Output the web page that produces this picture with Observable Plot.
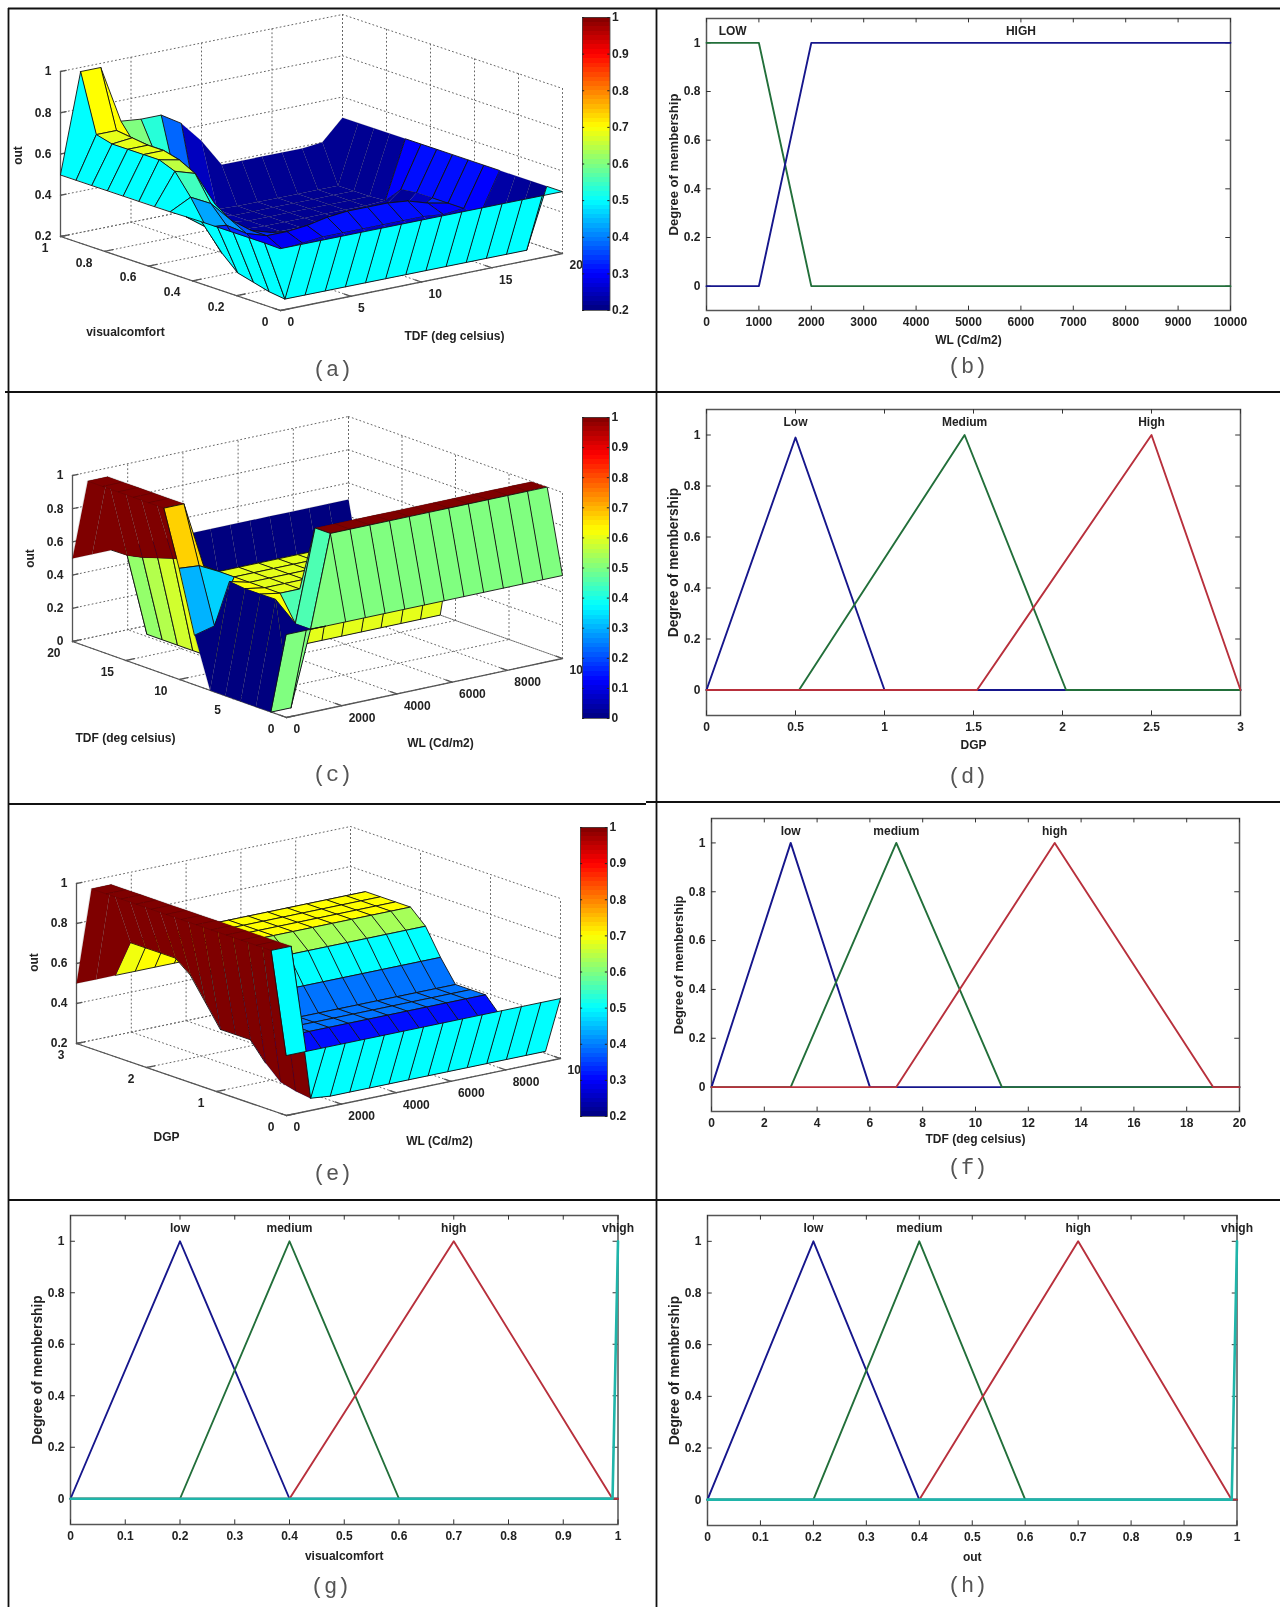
<!DOCTYPE html>
<html><head><meta charset="utf-8">
<script src="https://cdn.jsdelivr.net/npm/d3@7"></script>
<script src="https://cdn.jsdelivr.net/npm/@observablehq/plot@0.6"></script>
<style>
html,body{margin:0;padding:0;background:#fff}
#page{position:relative;width:1280px;height:1607px;overflow:hidden;filter:blur(.6px)}
#page svg{position:absolute;overflow:visible;max-width:none}
</style></head><body><div id="page"></div>
<script>
// ---------- surface values: rows = second input (low to high), columns = first input (low to high)
const surfaceA = [
[.5,.5,.5,.5,.5,.5,.5,.5,.5,.5,.5,.5,.5,.5,.5],
[.5,.21,.21,.21,.21,.21,.21,.21,.21,.21,.21,.21,.21,.21,.5],
[.5,.22,.22,.22,.22,.22,.22,.22,.22,.22,.22,.22,.22,.22,.5],
[.5,.24,.24,.24,.24,.24,.24,.24,.24,.24,.24,.24,.24,.23,.5],
[.5,.26,.27,.26,.26,.26,.26,.26,.26,.26,.26,.26,.26,.30,.5],
[.5,.33,.33,.30,.29,.30,.31,.31,.31,.31,.31,.31,.30,.31,.5],
[.5,.43,.42,.36,.33,.33,.34,.36,.37,.37,.37,.36,.33,.31,.5],
[.5,.55,.50,.40,.33,.30,.27,.25,.25,.25,.25,.25,.25,.31,.5],
[.5,.65,.62,.45,.33,.26,.22,.215,.215,.215,.215,.215,.22,.31,.5],
[.5,.68,.66,.50,.36,.26,.22,.215,.215,.215,.215,.215,.22,.30,.5],
[.5,.68,.68,.55,.40,.27,.22,.215,.215,.215,.215,.215,.215,.22,.5],
[.5,.68,.68,.57,.44,.29,.23,.215,.215,.215,.215,.215,.215,.215,.5],
[.5,.68,.69,.60,.50,.32,.24,.215,.215,.215,.215,.215,.215,.215,.5],
[.5,.70,.70,.60,.53,.38,.25,.22,.215,.215,.215,.215,.215,.215,.5],
[.5,.98,.98,.70,.69,.69,.63,.525,.39,.39,.39,.39,.39,.40,.5]];
const surfaceC = [
[.5,.5,.5,.5,.5,.5,.5,.5,.5,.5,.5,.5,.5,.5,.5],
[0,0,.45,1,1,1,1,1,1,1,1,1,1,1,1],
[0,.62,.45,1,1,1,1,1,1,1,1,1,1,1,1],
[0,.62,.6,.6,.6,.6,.6,.6,.6,.6,.6,.6,.6,.6,.6],
[0,.62,.6,.6,.6,.6,.6,.6,.6,.6,.6,.6,.6,.6,.6],
[0,.63,.6,.6,.6,.6,.6,.6,.6,.6,.6,.6,.6,.6,.6],
[.3,.33,.6,.6,.6,.6,.6,.6,.6,.6,.6,.6,.6,.6,.6],
[.67,.66,.6,.6,.6,.6,.6,.6,.6,.6,.6,.6,.6,.6,.6],
[1,1,.6,0,0,0,0,0,0,0,0,0,0,0,0],
[1,1,.6,0,0,0,0,0,0,0,0,0,0,0,0],
[1,1,.58,0,0,0,0,0,0,0,0,0,0,0,0],
[1,1,.55,0,0,0,0,0,0,0,0,0,0,0,0],
[1,1,.52,0,0,0,0,0,0,0,0,0,0,0,0],
[1,1,.5,0,0,0,0,0,0,0,0,0,0,0,0],
[.5,.5,.5,.5,.5,.5,.5,.5,.5,.5,.5,.5,.5,.5,.5]];
const surfaceE = [
[.5,.5,.5,.5,.5,.5,.5,.5,.5,.5,.5,.5,.5,.5,.5],
[1,1,.22,.21,.21,.21,.21,.21,.21,.21,.21,.21,.21,.21,.21],
[1,1,.23,.22,.22,.22,.22,.22,.22,.22,.22,.22,.22,.22,.22],
[1,1,.25,.25,.25,.25,.25,.25,.25,.25,.25,.25,.25,.25,.25],
[1,1,.32,.31,.31,.31,.31,.31,.31,.31,.31,.31,.31,.31,.31],
[1,1,.41,.39,.39,.39,.39,.39,.39,.39,.39,.39,.39,.39,.39],
[1,1,.41,.39,.39,.39,.39,.39,.39,.39,.39,.39,.39,.39,.39],
[1,1,.41,.39,.39,.39,.39,.39,.39,.39,.39,.39,.39,.39,.39],
[1,1,.52,.5,.5,.5,.5,.5,.5,.5,.5,.5,.5,.5,.5],
[1,1,.63,.63,.63,.63,.63,.63,.63,.63,.63,.63,.63,.63,.63],
[1,1,.69,.7,.7,.7,.7,.7,.7,.7,.7,.7,.7,.7,.7],
[1,1,.69,.7,.7,.7,.7,.7,.7,.7,.7,.7,.7,.7,.7],
[1,1,.69,.7,.7,.7,.7,.7,.7,.7,.7,.7,.7,.7,.7],
[1,1,.69,.7,.7,.7,.7,.7,.7,.7,.7,.7,.7,.7,.7],
[.5,.5,.5,.5,.5,.5,.5,.5,.5,.5,.5,.5,.5,.5,.5]];

// ---------- membership functions
const wlTicks=[0,1000,2000,3000,4000,5000,6000,7000,8000,9000,10000];
const dgpTicks=[0,.5,1,1.5,2,2.5,3];
const tdfTicks=[0,2,4,6,8,10,12,14,16,18,20];
const unitTicks=[0,.1,.2,.3,.4,.5,.6,.7,.8,.9,1];
const degreeTicks=[0,.2,.4,.6,.8,1];

const wlLow ={x:[0,1000,2000,10000],y:[1,1,0,0]};
const wlHigh={x:[0,1000,2000,10000],y:[0,0,1,1]};
const dgpLow={x:[0,.5,1,3],y:[0,.99,0,0]};
const dgpMed={x:[0,.52,1.45,2.02,3],y:[0,0,1,0,0]};
const dgpHigh={x:[0,1.52,2.5,3],y:[0,0,1,0]};
const tdfLow={x:[0,3,6,20],y:[0,1,0,0]};
const tdfMed={x:[0,3,7,11,20],y:[0,0,1,0,0]};
const tdfHigh={x:[0,7,13,19,20],y:[0,0,1,0,0]};
const unitLow={x:[0,.2,.4,1],y:[0,1,0,0]};
const unitMed={x:[0,.2,.4,.6,1],y:[0,0,1,0,0]};
const unitHigh={x:[0,.4,.7,.99,1],y:[0,0,1,0,0]};
const unitVhigh={x:[0,.99,1],y:[0,0,1]};

const BLUE="#16168c",GREEN="#226f3a",RED="#b8303c",TEAL="#1fb5aa";
const FONT="'Liberation Sans',Arial,sans-serif";
const page=document.getElementById("page");
function place(svg,left,top,w,h){svg.style.left=left+"px";svg.style.top=top+"px";svg.style.background="transparent";page.appendChild(svg);}
const base={fontFamily:FONT,fontWeight:"bold",fontSize:"12px",color:"#222",background:"transparent"};
const fmt=d=>String(d);

// ---------- page frame and captions
const frameH=[{y:8,a:8,b:1280},{y:391.5,a:5,b:1280},{y:803.5,a:8,b:646},{y:801.5,a:646,b:1280},{y:1199.5,a:8,b:1280}];
const frameV=[{x:8,a:8,b:1607},{x:656,a:8,b:1607}];
const captions=[["(a)",332,368],["(b)",967,365],["(c)",332,773],["(d)",967,775],["(e)",332,1172],["(f)",967,1166],["(g)",330,1585],["(h)",967,1584]];
place(Plot.plot({width:1280,height:1607,margin:0,style:{...base,background:"transparent"},
  x:{domain:[0,1280],range:[0,1280],axis:null},y:{domain:[0,1607],range:[0,1607],axis:null},
  marks:[
    Plot.ruleY(frameH,{y:"y",x1:"a",x2:"b",stroke:"#111",strokeWidth:1.8}),
    Plot.ruleX(frameV,{x:"x",y1:"a",y2:"b",stroke:"#111",strokeWidth:1.8}),
    Plot.text(captions,{x:d=>d[1],y:d=>d[2],text:d=>d[0],fontFamily:"'Liberation Mono',monospace",fontWeight:"normal",fontSize:22,fill:"#555"})
  ]}),0,0);

// ---------- 2-D membership panels
function membership(o){
  const ml=50,mr=30,mt=20,mb=50,w=o.right-o.left+ml+mr,h=o.bottom-o.top+mt+mb;
  const [x0,x1]=o.domain,xm=(x0+x1)/2,xt=(x1-x0)*.009;
  const yt=.018;
  const marks=[
    Plot.frame({stroke:"#555",strokeWidth:1.5}),
    Plot.ruleX(o.xTicks,{x:d=>d,y1:()=>-.1,y2:()=>-.1+yt,stroke:"#333"}),
    Plot.ruleX(o.xTicks,{x:d=>d,y1:()=>1.1,y2:()=>1.1-yt,stroke:"#333"}),
    Plot.ruleY(degreeTicks,{y:d=>d,x1:()=>x0,x2:()=>x0+xt,stroke:"#333"}),
    Plot.ruleY(degreeTicks,{y:d=>d,x1:()=>x1,x2:()=>x1-xt,stroke:"#333"}),
    Plot.axisX({anchor:"bottom",ticks:o.xTicks,tickSize:0,tickPadding:7,tickFormat:fmt,label:null}),
    Plot.axisY({anchor:"left",ticks:degreeTicks,tickSize:0,tickPadding:6,tickFormat:fmt,label:null}),
    Plot.text([o.xlabel],{x:()=>xm,y:()=>-.1,dy:o.xlabelDy||30,text:d=>d,fontSize:12}),
    Plot.text(["Degree of membership"],{x:()=>x0,y:()=>.5,dx:-33,rotate:-90,text:d=>d,fontSize:o.ylabelSize}),
    ...o.series.map(s=>Plot.line(s.x.map((x,i)=>({x,y:s.y[i]})),{x:"x",y:"y",stroke:s.color,strokeWidth:s.width||1.9})),
    Plot.text(o.labels,{x:d=>d[1],y:()=>1.05,text:d=>d[0],fontSize:12})
  ];
  const svg=Plot.plot({width:w,height:h,marginLeft:ml,marginRight:mr,marginTop:mt,marginBottom:mb,style:base,
    x:{domain:o.domain},y:{domain:[-.1,1.1]},marks});
  place(svg,o.left-ml,o.top-mt,w,h);
}
membership({left:706,right:1230,top:18,bottom:310,domain:[0,10000],xTicks:wlTicks,xlabel:"WL (Cd/m2)",ylabelSize:13.1,
  series:[{...wlLow,color:GREEN},{...wlHigh,color:BLUE}],labels:[["LOW",500],["HIGH",6000]]});
membership({left:706,right:1240,top:409,bottom:715,domain:[0,3],xTicks:dgpTicks,xlabel:"DGP",ylabelSize:13.8,
  series:[{...dgpLow,color:BLUE},{...dgpMed,color:GREEN},{...dgpHigh,color:RED}],labels:[["Low",.5],["Medium",1.45],["High",2.5]]});
membership({left:711,right:1239,top:818,bottom:1111,domain:[0,20],xTicks:tdfTicks,xlabel:"TDF (deg celsius)",xlabelDy:28,ylabelSize:12.8,
  series:[{...tdfLow,color:BLUE},{...tdfMed,color:GREEN},{...tdfHigh,color:RED}],labels:[["low",3],["medium",7],["high",13]]});
membership({left:69.5,right:617,top:1215,bottom:1524,domain:[0,1],xTicks:unitTicks,xlabel:"visualcomfort",xlabelDy:32,ylabelSize:13.8,
  series:[{...unitLow,color:BLUE},{...unitMed,color:GREEN},{...unitHigh,color:RED},{...unitVhigh,color:TEAL,width:2.6}],labels:[["low",.2],["medium",.4],["high",.7],["vhigh",1]]});
membership({left:706.5,right:1236,top:1215,bottom:1525,domain:[0,1],xTicks:unitTicks,xlabel:"out",xlabelDy:32,ylabelSize:13.8,
  series:[{...unitLow,color:BLUE},{...unitMed,color:GREEN},{...unitHigh,color:RED},{...unitVhigh,color:TEAL,width:2.6}],labels:[["low",.2],["medium",.4],["high",.7],["vhigh",1]]});

// ---------- 3-D surface panels (orthographic MATLAB view)
const jetStops=[0,.125,.375,.625,.875,1];
const jetColors=["#00007f","#0000ff","#00ffff","#ffff00","#ff0000","#7f0000"];
function jet(zr){return {type:"linear",domain:jetStops.map(t=>zr[0]+t*(zr[1]-zr[0])),range:jetColors,clamp:true};}

function surface3d(o){
  const [bx,by,bw,bh]=o.box;
  const span=o.zr[1]-o.zr[0];
  const project=(fx,fy,z)=>{const fz=(z-o.zr[0])/span;
    return {px:o.cam.O[0]+o.cam.ex[0]*fx+o.cam.ey[0]*fy,py:o.cam.O[1]+o.cam.ex[1]*fx+o.cam.ey[1]*fy+o.cam.ez*fz};};
  const fx=v=>(v-o.xr[0])/(o.xr[1]-o.xr[0]),fy=v=>(v-o.yr[0])/(o.yr[1]-o.yr[0]);
  const grid=[],solid=[];let id=0;
  const seg=(rows,a,b)=>{rows.push({...a,id},{...b,id});id++;};
  for(const t of o.xt){const f=fx(t);
    seg(grid,project(f,0,o.zr[0]),project(f,1,o.zr[0]));
    seg(grid,project(f,1,o.zr[0]),project(f,1,o.zr[1]));
    seg(solid,project(f,0,o.zr[0]),project(f,.03,o.zr[0]));}
  for(const t of o.yt){const f=fy(t);
    seg(grid,project(0,f,o.zr[0]),project(1,f,o.zr[0]));
    seg(grid,project(1,f,o.zr[0]),project(1,f,o.zr[1]));
    seg(solid,project(0,f,o.zr[0]),project(.03,f,o.zr[0]));}
  for(const t of o.zt){
    seg(grid,project(0,1,t),project(1,1,t));
    seg(grid,project(1,1,t),project(1,0,t));
    seg(solid,project(0,1,t),project(.02,1,t));}
  seg(solid,project(0,1,o.zr[0]),project(0,1,o.zr[1]));
  seg(solid,project(0,1,o.zr[0]),project(0,0,o.zr[0]));
  seg(solid,project(0,0,o.zr[0]),project(1,0,o.zr[0]));
  const n=14,quads=[];
  for(let i=n-1;i>=0;i--)for(let j=n-1;j>=0;j--){
    const v=o.z[j][i],t=(v-o.zr[0])/span,op=(t<.1||t>.92)?.15:1;
    for(const [a,b] of [[i,j],[i+1,j],[i+1,j+1],[i,j+1]])
      quads.push({...project(a/n,b/n,o.z[b][a]),id:i+"_"+j,v,op});
  }
  const xl=o.xt.map(t=>({...project(fx(t),0,o.zr[0]),t}));
  const yl=o.yt.map(t=>({...project(0,fy(t),o.zr[0]),t}));
  const zl=o.zt.map(t=>({...project(0,1,t),t}));
  const svg=Plot.plot({width:bw,height:bh,margin:0,style:base,
    x:{domain:[bx,bx+bw],range:[0,bw],axis:null},y:{domain:[by,by+bh],range:[0,bh],axis:null},
    color:jet(o.zr),
    marks:[
      Plot.line(grid,{x:"px",y:"py",z:"id",stroke:"#666",strokeWidth:1,strokeDasharray:"1,3"}),
      Plot.line(solid,{x:"px",y:"py",z:"id",stroke:"#555",strokeWidth:1.3}),
      Plot.line(quads,{x:"px",y:"py",z:"id",fill:"v",stroke:"#111",strokeWidth:.9,strokeOpacity:d=>d.op,curve:"linear-closed"}),
      Plot.text(xl,{x:"px",y:"py",text:d=>fmt(d.t),dx:7,dy:12,textAnchor:"start",fontSize:12}),
      Plot.text(yl,{x:"px",y:"py",text:d=>fmt(d.t),dx:-12,dy:11.5,textAnchor:"end",fontSize:12}),
      Plot.text(zl,{x:"px",y:"py",text:d=>fmt(d.t),dx:-9,textAnchor:"end",fontSize:12}),
      Plot.text(o.labels,{x:d=>d[1],y:d=>d[2],text:d=>d[0],fontSize:12,rotate:d=>d[3]||0})
    ]});
  place(svg,bx,by,bw,bh);
  // colour bar
  const [cl,ct,cw,ch]=o.bar,levels=d3.range(64),mt=8,mb=8,mr=28;
  const bar=Plot.plot({width:cw+mr,height:ch+mt+mb,marginLeft:0,marginRight:mr,marginTop:mt,marginBottom:mb,style:base,
    x:{domain:[0,1],axis:null},y:{domain:o.zr},color:jet(o.zr),
    marks:[
      Plot.rect(levels,{x1:()=>0,x2:()=>1,y1:k=>o.zr[0]+k/64*span,y2:k=>o.zr[0]+Math.min(k+1.6,64)/64*span,fill:k=>o.zr[0]+(k+.5)/64*span,shapeRendering:"crispEdges"}),
      Plot.frame({stroke:"#444",strokeWidth:.8}),
      Plot.ruleY(o.barTicks,{y:d=>d,x1:()=>0,x2:()=>.08,stroke:"#222"}),
      Plot.ruleY(o.barTicks,{y:d=>d,x1:()=>.92,x2:()=>1,stroke:"#222"}),
      Plot.axisY({anchor:"right",ticks:o.barTicks,tickSize:0,tickPadding:2,tickFormat:fmt,label:null})
    ]});
  place(bar,cl,ct-mt,cw+mr,ch+mt+mb);
}
surface3d({box:[10,10,640,380],z:surfaceA,zr:[.2,1],xr:[0,20],yr:[0,1],
  cam:{O:[280,310],ex:[282,-57],ey:[-220,-74],ez:-165},
  xt:[0,5,10,15,20],yt:[0,.2,.4,.6,.8,1],zt:[.2,.4,.6,.8,1],
  labels:[["visualcomfort",125,332],["TDF (deg celsius)",454,336],["out",18,155,-90]],
  bar:[581.5,17,27.5,293],barTicks:[.2,.3,.4,.5,.6,.7,.8,.9,1]});
surface3d({box:[10,393,640,408],z:surfaceC,zr:[0,1],xr:[0,10000],yr:[0,20],
  cam:{O:[286,717],ex:[276,-59],ey:[-214,-76],ez:-166},
  xt:[0,2000,4000,6000,8000,10000],yt:[0,5,10,15,20],zt:[0,.2,.4,.6,.8,1],
  labels:[["TDF (deg celsius)",125,738],["WL (Cd/m2)",440,743],["out",30,558,-90]],
  bar:[582,417,27,301],barTicks:[0,.1,.2,.3,.4,.5,.6,.7,.8,.9,1]});
surface3d({box:[10,805,640,393],z:surfaceE,zr:[.2,1],xr:[0,10000],yr:[0,3],
  cam:{O:[286,1115],ex:[274,-57],ey:[-210,-72],ez:-160},
  xt:[0,2000,4000,6000,8000,10000],yt:[0,1,2,3],zt:[.2,.4,.6,.8,1],
  labels:[["DGP",166,1137],["WL (Cd/m2)",439,1141],["out",34,962,-90]],
  bar:[580,827,27,289],barTicks:[.2,.3,.4,.5,.6,.7,.8,.9,1]});
</script></body></html>
